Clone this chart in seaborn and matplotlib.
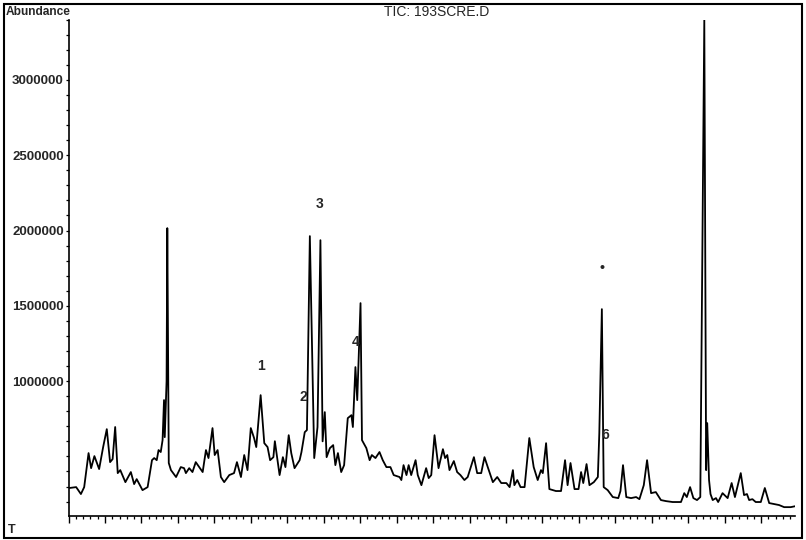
import numpy as np
import pandas as pd
import seaborn as sns
import matplotlib.pyplot as plt
from matplotlib.ticker import MultipleLocator, FixedLocator, StrMethodFormatter
from matplotlib.patches import Rectangle

# retention time (min) and total ion abundance
time_min = [
    0.02, 0.21, 0.34, 0.43, 0.55, 0.62, 0.71, 0.84, 0.95, 1.05, 1.14, 1.21, 1.28, 1.35,
    1.42, 1.56, 1.71, 1.80, 1.87, 2.03, 2.17, 2.29, 2.35, 2.42, 2.47, 2.53, 2.58, 2.62,
    2.64, 2.69, 2.71, 2.75, 2.81, 2.95, 3.08, 3.17, 3.22, 3.31, 3.40, 3.49, 3.68, 3.77,
    3.84, 3.95, 4.01, 4.09, 4.18, 4.27, 4.41, 4.54, 4.62, 4.73, 4.82, 4.91, 5.00, 5.09,
    5.15, 5.27, 5.37, 5.46, 5.53, 5.62, 5.66, 5.79, 5.88, 5.95, 6.04, 6.11, 6.20, 6.34,
    6.39, 6.48, 6.54, 6.62, 6.74, 6.83, 6.91, 6.97, 7.03, 7.08, 7.17, 7.26, 7.32, 7.39,
    7.48, 7.56, 7.66, 7.76, 7.80, 7.87, 7.92, 8.01, 8.05, 8.17, 8.26, 8.32, 8.42, 8.53,
    8.62, 8.72, 8.83, 8.92, 9.08, 9.13, 9.19, 9.27, 9.33, 9.40, 9.52, 9.58, 9.68, 9.81,
    9.88, 9.95, 10.04, 10.15, 10.27, 10.33, 10.39, 10.45, 10.57, 10.66, 10.75, 10.86,
    10.95, 11.12, 11.21, 11.32, 11.41, 11.50, 11.64, 11.76, 11.87, 12.01, 12.10, 12.19,
    12.23, 12.31, 12.40, 12.51, 12.64, 12.76, 12.87, 12.96, 13.01, 13.10, 13.19, 13.37,
    13.51, 13.62, 13.69, 13.77, 13.88, 13.99, 14.06, 14.12, 14.21, 14.29, 14.41, 14.52,
    14.56, 14.63, 14.68, 14.79, 14.93, 15.08, 15.14, 15.21, 15.30, 15.43, 15.57, 15.66,
    15.78, 15.87, 15.98, 16.11, 16.25, 16.39, 16.57, 16.80, 16.89, 16.96, 17.05, 17.14,
    17.24, 17.33, 17.44, 17.49, 17.52, 17.57, 17.61, 17.67, 17.76, 17.82, 17.94, 18.08,
    18.19, 18.28, 18.44, 18.53, 18.61, 18.67, 18.76, 18.85, 18.99, 19.10, 19.22, 19.36,
    19.49, 19.63, 19.81, 19.95,
]
abundance = [
    290000, 296000, 250000, 296000, 522000, 422000, 502000, 416000, 562000, 681000,
    462000, 482000, 695000, 389000, 409000, 329000, 396000, 316000, 349000, 276000,
    296000, 475000, 489000, 475000, 542000, 529000, 608000, 874000, 628000, 1000000,
    2016000, 456000, 409000, 363000, 429000, 422000, 389000, 422000, 396000, 462000,
    396000, 542000, 489000, 688000, 509000, 542000, 363000, 329000, 376000, 389000,
    462000, 363000, 509000, 409000, 688000, 622000, 562000, 907000, 588000, 562000,
    475000, 495000, 601000, 376000, 495000, 429000, 641000, 522000, 422000, 475000,
    529000, 661000, 675000, 1963000, 489000, 695000, 1936000, 600000, 794000, 495000,
    555000, 575000, 442000, 522000, 396000, 442000, 754000, 774000, 695000, 1093000,
    874000, 1518000, 608000, 555000, 475000, 509000, 489000, 529000, 475000, 429000,
    429000, 376000, 363000, 343000, 442000, 376000, 442000, 376000, 475000, 376000,
    309000, 422000, 356000, 376000, 641000, 422000, 548000, 489000, 509000, 409000,
    469000, 396000, 376000, 343000, 363000, 495000, 389000, 389000, 495000, 429000,
    329000, 363000, 323000, 323000, 296000, 409000, 309000, 343000, 296000, 296000,
    622000, 429000, 343000, 409000, 389000, 588000, 283000, 270000, 270000, 475000,
    309000, 456000, 283000, 283000, 396000, 323000, 449000, 309000, 329000, 363000,
    655000, 1478000, 296000, 276000, 230000, 223000, 270000, 442000, 230000, 223000,
    230000, 216000, 309000, 475000, 256000, 263000, 210000, 203000, 197000, 197000,
    256000, 230000, 296000, 223000, 210000, 230000, 3400000, 409000, 721000, 343000,
    250000, 210000, 223000, 197000, 256000, 223000, 323000, 230000, 389000, 243000,
    250000, 210000, 216000, 197000, 197000, 290000, 190000, 183000, 177000, 163000,
    163000, 170000,
]

# peak labels written on the trace
peak_labels = ["1", "2", "3", "4", "\u2022", "6"]
peak_time = [5.27, 6.45, 6.89, 7.88, 14.64, 14.73]
peak_abund = [1100000, 894000, 2175000, 1259000, 1750000, 641000]

y_major = [1000000, 1500000, 2000000, 2500000, 3000000]

df = pd.DataFrame({"Time": time_min, "Abundance": abundance})

sns.set_style("ticks")
plt.rcParams["font.family"] = ["Liberation Sans", "DejaVu Sans"]

fig = plt.figure(figsize=(8.06, 5.40), dpi=100)
ax = fig.add_axes([0.085, 0.0444, 0.901, 0.919])

sns.lineplot(data=df, x="Time", y="Abundance", color="black", linewidth=1.3,
             estimator=None, solid_joinstyle="round", ax=ax)

ax.set_xlim(0, 19.92)
ax.set_ylim(104000, 3400000)

ax.xaxis.set_major_locator(MultipleLocator(1))
ax.xaxis.set_minor_locator(MultipleLocator(0.2))
ax.xaxis.set_major_formatter(plt.NullFormatter())
ax.yaxis.set_major_locator(FixedLocator(y_major))
ax.yaxis.set_minor_locator(MultipleLocator(100000))
ax.yaxis.set_major_formatter(StrMethodFormatter("{x:.0f}"))

ax.tick_params(axis="x", which="major", length=5, width=1.0, color="black")
ax.tick_params(axis="x", which="minor", length=2.5, width=0.9, color="black")
ax.tick_params(axis="y", which="both", length=2.5, width=0.9, color="black",
               pad=1, labelsize=9.5)
for lab in ax.get_yticklabels():
    lab.set_fontweight("bold")

ax.set_xlabel("")
ax.set_ylabel("")
sns.despine(ax=ax)
for side in ["left", "bottom"]:
    ax.spines[side].set_linewidth(1.2)
    ax.spines[side].set_color("black")

for lab, t, a in zip(peak_labels, peak_time, peak_abund):
    ax.text(t, a, lab, ha="center", va="center", fontsize=10, fontweight="bold")

fig.text(6 / 806, 1 - 12 / 540, "Abundance", ha="left", va="center",
         fontsize=8.6, fontweight="bold")
fig.text(437 / 806, 1 - 12 / 540, "TIC: 193SCRE.D", ha="center", va="center",
         fontsize=10)
fig.text(8 / 806, 1 - 530 / 540, "T", ha="left", va="center", fontsize=9,
         fontweight="bold")

fig.patches.append(Rectangle((4 / 806, 2 / 540), 798 / 806, 534 / 540,
                             transform=fig.transFigure, fill=False,
                             edgecolor="black", linewidth=1.5))

fig.savefig("out.png", dpi=100)
